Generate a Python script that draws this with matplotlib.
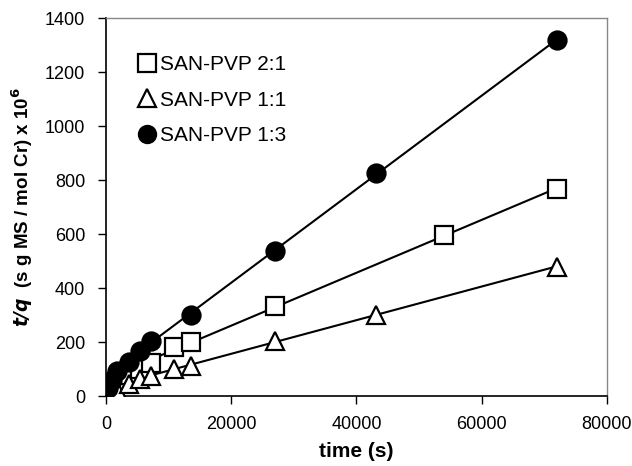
import numpy as np
import matplotlib
matplotlib.use("Agg")
import matplotlib.pyplot as plt

plt.rcParams['font.family'] = ['Liberation Sans', 'DejaVu Sans']

# SAN-PVP 2:1 (open squares)
t_21 = [300, 900, 1800, 3600, 5400, 7200, 10800, 13500, 27000, 54000, 72000]
q_21 = [5, 34, 53, 78, 100, 122, 181, 200, 332, 596, 767]
# SAN-PVP 1:1 (open triangles)
t_11 = [300, 1800, 3600, 5400, 7200, 10800, 13500, 27000, 43200, 72000]
q_11 = [8, 22, 45, 62, 76, 102, 113, 203, 301, 480]
# SAN-PVP 1:3 (filled circles)
t_13 = [300, 900, 1800, 3600, 5400, 7200, 13500, 27000, 43200, 72000]
q_13 = [30, 60, 92, 127, 168, 205, 302, 537, 826, 1320]

series = [
    (t_21, q_21, 's', 'white', 'SAN-PVP 2:1'),
    (t_11, q_11, '^', 'white', 'SAN-PVP 1:1'),
    (t_13, q_13, 'o', 'black', 'SAN-PVP 1:3'),
]

fig = plt.figure(figsize=(6.32, 4.66), dpi=100)
ax = fig.add_axes([0.168, 0.150, 0.792, 0.811])

for t, q, m, fc, lab in series:
    t = np.array(t)
    q = np.array(q)
    # linear fit (trendline) over the later points
    sel = t >= 7200
    k, b = np.polyfit(t[sel], q[sel], 1)
    xs = np.array([t.min(), t.max()])
    ax.plot(xs, k * xs + b, color='black', lw=1.5, zorder=2)
    ax.plot(t, q, linestyle='none', marker=m, ms=13, mfc=fc, mec='black',
            mew=1.6, label=lab, zorder=3)

ax.set_xlim(0, 80000)
ax.set_ylim(0, 1400)
ax.set_xticks(np.arange(0, 80001, 20000))
ax.set_yticks(np.arange(0, 1401, 200))
ax.tick_params(labelsize=13, direction='out', length=6, width=1)
ax.tick_params(axis='x', pad=8)
ax.tick_params(axis='y', pad=9)

for s in ['top', 'right']:
    ax.spines[s].set_color('#888888')
    ax.spines[s].set_linewidth(1)
for s in ['left', 'bottom']:
    ax.spines[s].set_linewidth(1.2)

ax.set_xlabel('time (s)', fontsize=15, fontweight='bold', labelpad=7)
ax.set_ylabel(r'$\bfit{t/q}$  (s g MS / mol Cr) x 10$^{\bf 6}$', fontsize=13.5,
              fontweight='bold', labelpad=7)

leg = ax.legend(loc='upper left', bbox_to_anchor=(0.045, 0.925), frameon=False,
                fontsize=15, handletextpad=0.1, labelspacing=0.8,
                markerscale=0.95, handlelength=1.0, borderaxespad=0)

fig.savefig('out.png', dpi=100)
